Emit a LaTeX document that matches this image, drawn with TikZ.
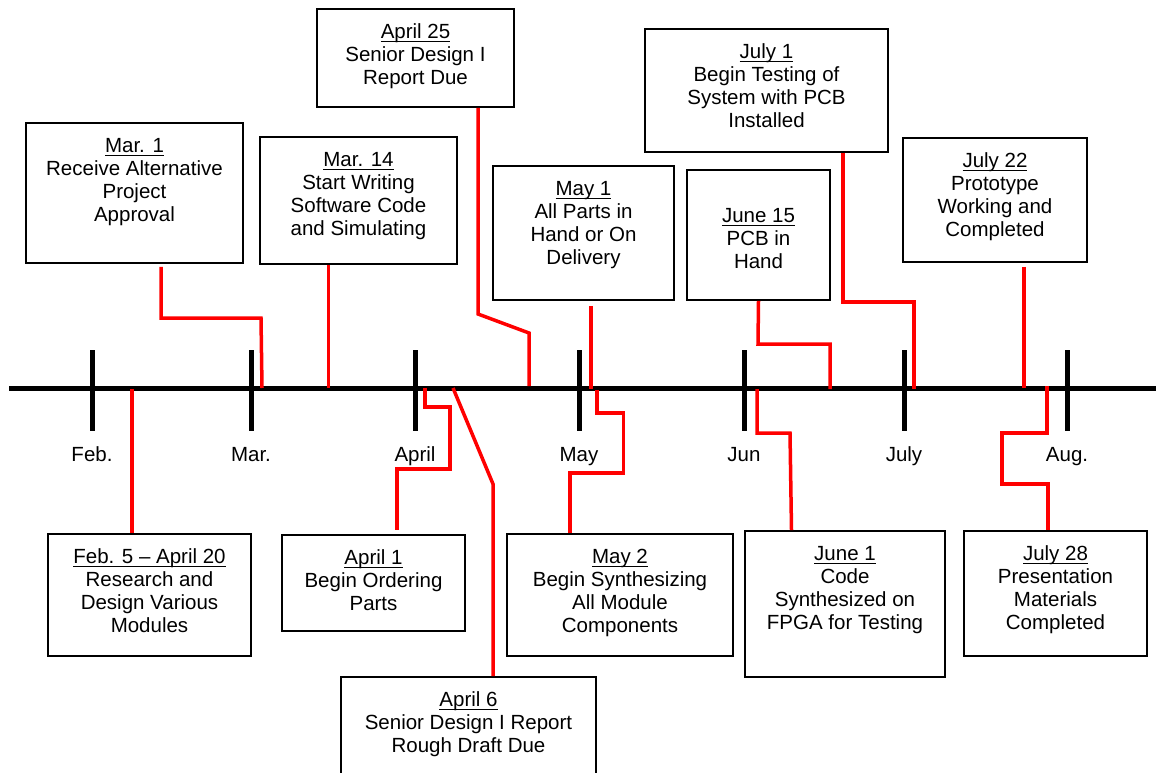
\documentclass[tikz,border=0pt]{standalone}
\usepackage{fontspec}
\setmainfont{Liberation Sans}
% underlined date heading, rule just under the baseline
\newsavebox\datebox
\newcommand\uldate[1]{\sbox\datebox{#1}\rlap{\rule[-3.5pt]{\wd\datebox}{1.6pt}}\usebox\datebox}
\begin{document}
\begin{tikzpicture}[x=1pt, y=-1pt,
  evbox/.style={draw, line width=1.8pt, inner sep=0pt},
  evtext/.style={align=center, inner sep=0pt, anchor=north, font=\fontsize{20.5}{23}\selectfont},
  month/.style={anchor=base, inner sep=0pt, font=\fontsize{20.5}{23}\selectfont},
  link/.style={draw=red, line width=3.5pt, line join=miter},
  axisline/.style={line width=5pt},
  tick/.style={line width=5pt}]
\clip (0,0) rectangle (1156,773);

% ---- event boxes above the time line ----
\node[evbox, minimum width=197pt, minimum height=98pt]  (apr25) at (415.5,58)  {};
\node[evbox, minimum width=217pt, minimum height=140pt] (mar1)  at (134.5,193) {};
\node[evbox, minimum width=197pt, minimum height=127pt] (mar14) at (358.5,200.5) {};
\node[evbox, minimum width=181pt, minimum height=134pt] (may1)  at (583.5,233) {};
\node[evbox, minimum width=143pt, minimum height=130pt] (jun15) at (758.5,235) {};
\node[evbox, minimum width=243pt, minimum height=123pt] (jul1)  at (766.5,90.5) {};
\node[evbox, minimum width=184pt, minimum height=124pt] (jul22) at (995,200) {};

% ---- event boxes below the time line ----
\node[evbox, minimum width=203pt, minimum height=122pt] (feb5)  at (149.5,595) {};
\node[evbox, minimum width=183pt, minimum height=96pt]  (apr1)  at (373.5,583) {};
\node[evbox, minimum width=255pt, minimum height=123pt] (apr6)  at (468.5,738.5) {};
\node[evbox, minimum width=226pt, minimum height=122pt] (may2)  at (620,595) {};
\node[evbox, minimum width=200pt, minimum height=146pt] (jun1)  at (845,604) {};
\node[evbox, minimum width=183pt, minimum height=125pt] (jul28) at (1055.5,593.5) {};

% ---- box texts ----
\node[evtext] (apr25t) at ([yshift=-14.4pt]apr25.north) {\strut\uldate{April 25}\\Senior Design I\\Report Due};
\node[evtext] (mar1t)  at ([yshift=-14.4pt]mar1.north)  {\strut\uldate{Mar. 1}\\Receive Alternative\\Project\\Approval};
\node[evtext] (mar14t) at ([yshift=-14.4pt]mar14.north) {\strut\uldate{Mar. 14}\\Start Writing\\Software Code\\and Simulating};
\node[evtext] (may1t)  at ([yshift=-14.4pt]may1.north)  {\strut\uldate{May 1}\\All Parts in\\Hand or On\\Delivery};
\node[evtext] (jun15t) at ([yshift=-37.4pt]jun15.north) {\strut\uldate{June 15}\\PCB in\\Hand};
\node[evtext] (jul1t)  at ([yshift=-14.4pt]jul1.north)  {\strut\uldate{July 1}\\Begin Testing of\\System with PCB\\Installed};
\node[evtext] (jul22t) at ([yshift=-14.4pt]jul22.north) {\strut\uldate{July 22}\\Prototype\\Working and\\Completed};
\node[evtext] (feb5t)  at ([yshift=-14.4pt]feb5.north)  {\strut\uldate{Feb. 5 – April 20}\\Research and\\Design Various\\Modules};
\node[evtext] (apr1t)  at ([yshift=-14.4pt]apr1.north)  {\strut\uldate{April 1}\\Begin Ordering\\Parts};
\node[evtext] (apr6t)  at ([yshift=-14.4pt]apr6.north)  {\strut\uldate{April 6}\\Senior Design I Report\\Rough Draft Due};
\node[evtext] (may2t)  at ([yshift=-14.4pt]may2.north)  {\strut\uldate{May 2}\\Begin Synthesizing\\All Module\\Components};
\node[evtext] (jun1t)  at ([yshift=-14.4pt]jun1.north)  {\strut\uldate{June 1}\\Code\\Synthesized on\\FPGA for Testing};
\node[evtext] (jul28t) at ([yshift=-14.4pt]jul28.north) {\strut\uldate{July 28}\\Presentation\\Materials\\Completed};

% ---- time line with month ticks ----
\coordinate (axL) at (9,388);
\coordinate (axR) at (1156,388);
\draw[axisline] (axL) -- (axR);
\foreach \mx/\mname/\mlab in {92/feb/Feb., 251/mar/Mar., 415/apr/April, 579/may/May, 744/jun/Jun, 904/jul/July, 1067/aug/Aug.}{
  \coordinate (tt\mname) at (\mx,350);
  \coordinate (tb\mname) at (\mx,431);
  \draw[tick] (tt\mname) -- (tb\mname);
  \node[month] (lab\mname) at (\mx,461) {\mlab};
}

% ---- points where the leaders meet the time line ----
\coordinate (pMar1)  at (262,388);
\coordinate (pMar14) at (328.5,388);
\coordinate (pApr25) at (529,386);
\coordinate (pMay1)  at (591,389);
\coordinate (pJun15) at (830,389);
\coordinate (pJul1)  at (914,389);
\coordinate (pJul22) at (1024,388);
\coordinate (pFeb5)  at (132,389);
\coordinate (pApr1)  at (425,388);
\coordinate (pApr6)  at (453,388);
\coordinate (pMay2)  at (597,390);
\coordinate (pJun1)  at (757,389);
\coordinate (pJul28) at (1047,386);

% ---- red leaders, upper events ----
\draw[link] ([xshift=26.5pt,yshift=-3pt]mar1.south) -- (161,318) -- (261,318) -- (pMar1);
\draw[link] ([xshift=-30pt]mar14.south) -- (pMar14);
\draw[link] ([xshift=62.5pt]apr25.south) -- (478,314) -- (529,333) -- (pApr25);
\draw[link] ([xshift=7.5pt,yshift=-5pt]may1.south) -- (pMay1);
\draw[link] (jun15.south) -- (758,344) -- (830,344) -- (pJun15);
\draw[link] ([xshift=76.5pt]jul1.south) -- (843,302) -- (914,302) -- (pJul1);
\draw[link] ([xshift=29pt,yshift=-4pt]jul22.south) -- (pJul22);

% ---- red leaders, lower events ----
\draw[link] (pFeb5) -- ([xshift=-17.5pt]feb5.north);
\draw[link] (pApr1) -- (425,407) -- (450,407) -- (450,469) -- (397,469) -- ([xshift=23.5pt,yshift=4pt]apr1.north);
\draw[link] (pApr6) -- (493,484) -- ([xshift=24.5pt]apr6.north);
\draw[link] (pMay2) -- (597,413) -- (623.5,413) -- (623.5,473) -- (570,473) -- ([xshift=-50pt]may2.north);
\draw[link] (pJun1) -- (757,433) -- (790,433) -- ([xshift=-53.5pt]jun1.north);
\draw[link] (pJul28) -- (1047,433) -- (1002,433) -- (1002,484) -- (1048,484) -- ([xshift=-7.5pt]jul28.north);
\end{tikzpicture}
\end{document}
